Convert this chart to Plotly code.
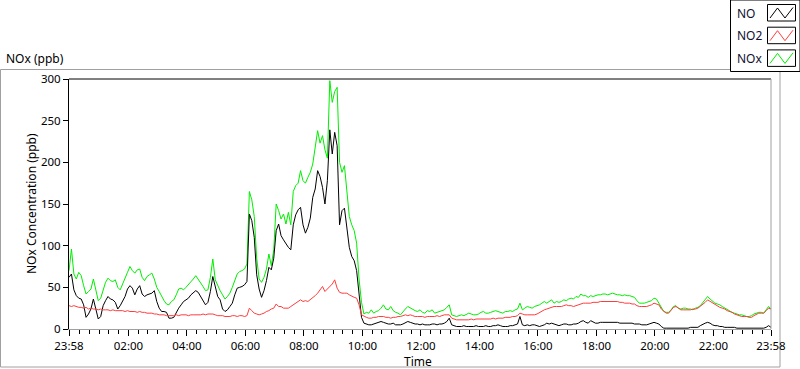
import plotly.graph_objects as go
import pandas as pd

# ---------------- data ----------------
start_time = "2000-01-01 23:58"
n_points = 289  # 5-minute samples over 24 h
times = pd.date_range(start_time, periods=n_points, freq="5min")

nox = [70, 96, 66, 60, 68, 64, 52, 42, 45, 48,
       60, 48, 34, 37, 48, 56, 61, 58, 57, 59,
       50, 47, 54, 62, 68, 75, 70, 67, 71, 72,
       62, 58, 63, 65, 67, 60, 50, 45, 39, 34,
       30, 29, 33, 35, 41, 48, 49, 47, 50, 53,
       56, 60, 64, 60, 55, 51, 46, 47, 62, 84,
       59, 52, 46, 41, 36, 39, 43, 50, 59, 66,
       69, 70, 72, 78, 165, 155, 135, 85, 60, 56,
       62, 72, 90, 76, 95, 150, 142, 132, 138, 126,
       140, 125, 165, 172, 175, 190, 178, 175, 182, 188,
       198, 220, 238, 223, 232, 215, 205, 298, 272, 285,
       290, 200, 188, 196, 168, 135, 125, 118, 103, 60,
       32, 18, 20, 19, 23, 19, 21, 22, 25, 29,
       24, 23, 27, 22, 20, 19, 17, 21, 24, 27,
       25, 23, 22, 21, 23, 20, 19, 22, 21, 23,
       19, 20, 21, 22, 23, 26, 29, 17, 16, 15,
       16, 17, 16, 18, 19, 18, 17, 17, 18, 20,
       21, 19, 19, 20, 21, 22, 21, 20, 19, 21,
       21, 22, 21, 23, 24, 31, 23, 25, 27, 26,
       25, 27, 28, 29, 31, 33, 31, 33, 35, 31,
       33, 32, 33, 35, 34, 36, 37, 36, 39, 38,
       42, 40, 40, 38, 40, 39, 40, 41, 41, 42,
       42, 41, 42, 43, 42, 41, 41, 40, 41, 40,
       40, 39, 38, 34, 31, 31, 31, 32, 33, 34,
       37, 36, 31, 26, 21, 20, 20, 23, 27, 28,
       25, 24, 25, 25, 24, 24, 23, 25, 26, 28,
       32, 36, 39, 36, 33, 31, 30, 29, 27, 25,
       23, 21, 20, 19, 18, 17, 17, 16, 15, 15,
       16, 18, 19, 20, 20, 19, 23, 27, 24]

no = [62, 66, 47, 40, 37, 36, 29, 14, 18, 24,
      36, 22, 12, 15, 28, 34, 39, 36, 35, 32,
      24, 28, 33, 39, 48, 52, 49, 41, 48, 52,
      42, 39, 41, 42, 43, 46, 33, 25, 21, 21,
      20, 13, 13, 14, 20, 25, 29, 33, 35, 37,
      41, 44, 46, 44, 39, 34, 29, 32, 45, 63,
      50, 39, 35, 24, 21, 23, 27, 31, 41, 49,
      50, 51, 53, 57, 138, 130, 110, 65, 48, 38,
      46, 58, 74, 71, 85, 118, 126, 112, 107, 102,
      98, 95, 125, 137, 143, 146, 125, 115, 122, 133,
      158, 168, 190, 183, 170, 150, 178, 239, 210, 236,
      220, 125, 142, 145, 120, 98, 87, 82, 70, 40,
      14, 7, 6, 5, 5, 6, 7, 8, 9, 8,
      7, 6, 6, 7, 5, 5, 5, 6, 8, 9,
      8, 7, 6, 6, 5, 6, 5, 5, 5, 6,
      6, 5, 6, 6, 7, 9, 13, 5, 4, 3,
      3, 3, 4, 3, 3, 3, 3, 4, 3, 3,
      3, 4, 3, 3, 4, 4, 5, 4, 3, 3,
      3, 4, 4, 5, 6, 15, 5, 4, 5, 4,
      5, 5, 4, 3, 4, 5, 7, 6, 7, 6,
      5, 4, 5, 6, 6, 5, 5, 6, 6, 7,
      9, 10, 8, 7, 10, 8, 7, 7, 8, 8,
      8, 8, 8, 8, 8, 8, 7, 7, 7, 7,
      7, 7, 6, 6, 6, 5, 5, 5, 6, 7,
      8, 7, 6, 3, 1, 1, 1, 1, 1, 1,
      1, 1, 1, 1, 1, 2, 2, 2, 2, 4,
      6, 7, 8, 7, 5, 4, 4, 3, 3, 2,
      2, 2, 2, 2, 1, 1, 1, 1, 1, 1,
      1, 1, 1, 1, 1, 1, 2, 4, 2]

no2 = [28, 27, 28, 27, 26, 26, 25, 26, 24, 25,
       24, 24, 23, 24, 23, 23, 23, 22, 23, 22,
       22, 22, 22, 21, 22, 21, 21, 21, 20, 21,
       20, 20, 19, 19, 19, 18, 18, 17, 17, 17,
       16, 16, 16, 16, 17, 16, 17, 17, 17, 16,
       17, 17, 17, 17, 17, 18, 17, 18, 18, 18,
       17, 16, 16, 16, 15, 15, 15, 16, 16, 15,
       16, 16, 15, 16, 25, 22, 19, 18, 17, 18,
       19, 21, 22, 24, 25, 30, 27, 27, 25, 25,
       25, 27, 29, 32, 33, 35, 33, 34, 33, 35,
       37, 40, 43, 47, 51, 45, 48, 51, 54, 59,
       49, 44, 43, 43, 43, 41, 39, 38, 37, 29,
       17, 15, 14, 13, 13, 14, 14, 15, 15, 15,
       14, 14, 13, 14, 14, 15, 15, 16, 17, 16,
       17, 16, 15, 15, 15, 15, 14, 15, 15, 15,
       15, 16, 15, 16, 17, 17, 17, 13, 12, 11,
       11, 11, 11, 11, 11, 12, 11, 12, 12, 12,
       12, 12, 12, 12, 13, 12, 13, 13, 13, 14,
       14, 14, 15, 15, 16, 19, 18, 17, 17, 17,
       17, 17, 18, 20, 22, 23, 24, 25, 26, 27,
       27, 27, 27, 28, 29, 28, 28, 27, 28, 29,
       30, 31, 31, 31, 31, 32, 32, 32, 33, 33,
       33, 33, 33, 33, 33, 33, 32, 32, 31, 31,
       31, 30, 30, 28, 27, 27, 27, 27, 28, 29,
       31, 30, 29, 24, 21, 19, 19, 22, 26, 27,
       25, 23, 23, 23, 23, 23, 24, 24, 25, 27,
       29, 32, 35, 33, 31, 29, 28, 26, 25, 24,
       22, 21, 20, 18, 17, 16, 15, 15, 15, 14,
       14, 16, 18, 19, 19, 19, 22, 25, 24]

x_tick_vals = ["2000-01-01 23:58", "2000-01-02 02:00", "2000-01-02 04:00",
               "2000-01-02 06:00", "2000-01-02 08:00", "2000-01-02 10:00",
               "2000-01-02 12:00", "2000-01-02 14:00", "2000-01-02 16:00",
               "2000-01-02 18:00", "2000-01-02 20:00", "2000-01-02 22:00",
               "2000-01-02 23:58"]
x_tick_text = ["23:58", "02:00", "04:00", "06:00", "08:00", "10:00", "12:00",
               "14:00", "16:00", "18:00", "20:00", "22:00", "23:58"]
y_tick_vals = [0, 50, 100, 150, 200, 250, 300]

legend_names = ["NO", "NO2", "NOx"]

# ---------------- layout helpers ----------------
W, H = 800, 369
L, R, T, B = 69, 771, 79, 329
FONT = "Noto Sans"


def px(x):
    return (x - L) / (R - L)


def py(y):
    return (B - y) / (B - T)


colors = {"NO": "#000000", "NO2": "#ff3c3c", "NOx": "#00ee00"}

fig = go.Figure()
for name, vals in [("NOx", nox), ("NO", no), ("NO2", no2)]:
    fig.add_trace(go.Scatter(x=times[:len(vals)], y=vals, mode="lines", name=name,
                             line=dict(color=colors[name], width=1),
                             showlegend=False, hoverinfo="skip"))

shapes = []
# outer grey frame
shapes.append(dict(type="rect", xref="paper", yref="paper",
                   x0=px(0.5), x1=px(780), y0=py(69.5), y1=py(367),
                   line=dict(color="#a0a0a0", width=1), fillcolor="rgba(0,0,0,0)",
                   layer="below"))
# plot box: top black, right grey
shapes.append(dict(type="line", xref="paper", yref="paper", x0=0, x1=1, y0=1, y1=1,
                   line=dict(color="#000000", width=1)))
shapes.append(dict(type="line", xref="paper", yref="paper", x0=1, x1=1, y0=0, y1=1,
                   line=dict(color="#a0a0a0", width=1)))

# custom legend
shapes.append(dict(type="rect", xref="paper", yref="paper",
                   x0=px(730.5), x1=px(800), y0=py(0), y1=py(71.5),
                   line=dict(color="#000000", width=1), fillcolor="#ffffff"))
annotations = []
for k, name in enumerate(legend_names):
    top = 4.5 + k * 22.7
    shapes.append(dict(type="rect", xref="paper", yref="paper",
                       x0=px(767.5), x1=px(795.5), y0=py(top), y1=py(top + 16.5),
                       line=dict(color="#000000", width=1), fillcolor="#ffffff"))
    zz = [(770, top + 13.5), (777.5, top + 3.5), (785, top + 13.5), (793, top + 3)]
    path = "M " + " L ".join(f"{px(a):.5f},{py(b):.5f}" for a, b in zz)
    shapes.append(dict(type="path", xref="paper", yref="paper", path=path,
                       line=dict(color=colors[name], width=1)))
    annotations.append(dict(x=px(735), y=py(top + 8.5), xref="paper", yref="paper",
                            text=name, showarrow=False, xanchor="left",
                            yanchor="middle", font=dict(family=FONT, size=12,
                                                        color="#101030")))

annotations.append(dict(x=px(4), y=py(59), xref="paper", yref="paper",
                        text="NOx (ppb)", showarrow=False, xanchor="left",
                        yanchor="middle", font=dict(family=FONT, size=12, color="#000000")))
annotations.append(dict(x=px(418), y=py(361), xref="paper", yref="paper",
                        text="Time", showarrow=False, xanchor="center",
                        yanchor="middle", font=dict(family=FONT, size=12, color="#000000")))
annotations.append(dict(x=px(31), y=py(204), xref="paper", yref="paper",
                        text="NOx Concentration (ppb)", showarrow=False, textangle=-90,
                        xanchor="center", yanchor="middle",
                        font=dict(family=FONT, size=12, color="#000000")))

fig.update_layout(
    width=W, height=H,
    margin=dict(l=L, r=W - R, t=T, b=H - B, pad=0),
    paper_bgcolor="#ffffff", plot_bgcolor="#ffffff",
    font=dict(family=FONT, size=12, color="#000000"),
    shapes=shapes, annotations=annotations,
    xaxis=dict(
        type="date", automargin=False,
        range=[x_tick_vals[0], x_tick_vals[-1]],
        tickvals=x_tick_vals, ticktext=x_tick_text,
        ticks="outside", ticklen=6, tickcolor="#000000", tickwidth=1,
        showgrid=False, zeroline=False,
        showline=True, linecolor="#a0a0a0", linewidth=1,
        tickfont=dict(family=FONT, size=11.5),
        minor=dict(dtick=20 * 60 * 1000, tick0="2000-01-02 00:00",
                   ticks="outside", ticklen=4, tickcolor="#000000", showgrid=False),
    ),
    yaxis=dict(
        range=[0, 300], tickvals=y_tick_vals, automargin=False,
        ticks="outside", ticklen=5, tickcolor="#000000",
        showgrid=False, zeroline=False,
        showline=True, linecolor="#000000", linewidth=1,
        tickfont=dict(family=FONT, size=11.5),
    ),
)

fig.write_html("out.html",
               config={"displayModeBar": False, "staticPlot": True},
               post_script="document.body.style.margin='0';"
                           "document.body.style.overflow='hidden';")
